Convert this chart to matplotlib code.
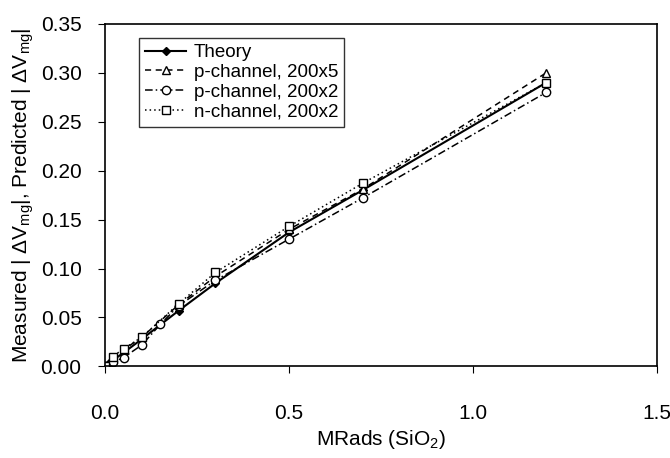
import numpy as np
import matplotlib.pyplot as plt

plt.rcParams['font.family'] = ['Liberation Sans', 'DejaVu Sans']
plt.rcParams['mathtext.fontset'] = 'custom'
plt.rcParams['mathtext.rm'] = 'Liberation Sans'
plt.rcParams['mathtext.it'] = 'Liberation Sans'

# dose (MRads SiO2) and |dVmg| values
theory_x = [0, 0.01, 0.02, 0.05, 0.1, 0.2, 0.3, 0.5, 0.7, 1.2]
theory_y = [0, 0.003, 0.006, 0.014, 0.028, 0.057, 0.085, 0.137, 0.180, 0.290]

p5_x = [0, 0.02, 0.05, 0.1, 0.2, 0.3, 0.5, 0.7, 1.2]
p5_y = [0, 0.008, 0.017, 0.030, 0.063, 0.092, 0.140, 0.181, 0.300]

p2_x = [0, 0.02, 0.05, 0.1, 0.15, 0.2, 0.3, 0.5, 0.7, 1.2]
p2_y = [0, 0.004, 0.009, 0.022, 0.043, 0.062, 0.088, 0.130, 0.172, 0.280]

n2_x = [0, 0.02, 0.05, 0.1, 0.2, 0.3, 0.5, 0.7, 1.2]
n2_y = [0, 0.010, 0.018, 0.030, 0.064, 0.096, 0.143, 0.187, 0.290]

fig = plt.figure(figsize=(6.7, 4.58), dpi=100)
ax = fig.add_axes([0.157, 0.200, 0.823, 0.748])

ax.plot(theory_x, theory_y, color="black", linestyle="-", linewidth=1.5,
        marker="D", markersize=4, markerfacecolor="black", label="Theory")
ax.plot(p5_x, p5_y, color="black", linestyle=(0, (4, 3)), linewidth=1.1,
        marker="^", markersize=6, markerfacecolor="white", label="p-channel, 200x5")
ax.plot(p2_x, p2_y, color="black", linestyle=(0, (5, 2, 1, 2)), linewidth=1.1,
        marker="o", markersize=6, markerfacecolor="white", label="p-channel, 200x2")
ax.plot(n2_x, n2_y, color="black", linestyle=(0, (1, 2)), linewidth=1.1,
        marker="s", markersize=6, markerfacecolor="white", label="n-channel, 200x2")

ax.set_xlim(0, 1.5)
ax.set_ylim(0, 0.35)
ax.set_xticks([0, 0.5, 1.0, 1.5])
ax.set_yticks(np.arange(0, 0.351, 0.05))
ax.xaxis.set_major_formatter(plt.FormatStrFormatter("%.1f"))
ax.yaxis.set_major_formatter(plt.FormatStrFormatter("%.2f"))
ax.tick_params(direction="out", length=5, labelsize=15)
ax.tick_params(axis="x", pad=22)
ax.tick_params(axis="y", pad=12)
for s in ax.spines.values():
    s.set_linewidth(1.2)

ax.set_xlabel(r"MRads (SiO$_2$)", fontsize=15, labelpad=4)
ax.set_ylabel(r"Measured | $\Delta$V$_{\rm mg}$|, Predicted | $\Delta$V$_{\rm mg}$|",
              fontsize=15, labelpad=3)

leg = ax.legend(loc="upper left", bbox_to_anchor=(0.045, 0.985), fontsize=13.5,
                frameon=True, fancybox=False, edgecolor="black", handlelength=2.2,
                borderpad=0.3, labelspacing=0.15, handletextpad=0.4)
leg.get_frame().set_linewidth(1.0)

fig.savefig("out.png", dpi=100)
